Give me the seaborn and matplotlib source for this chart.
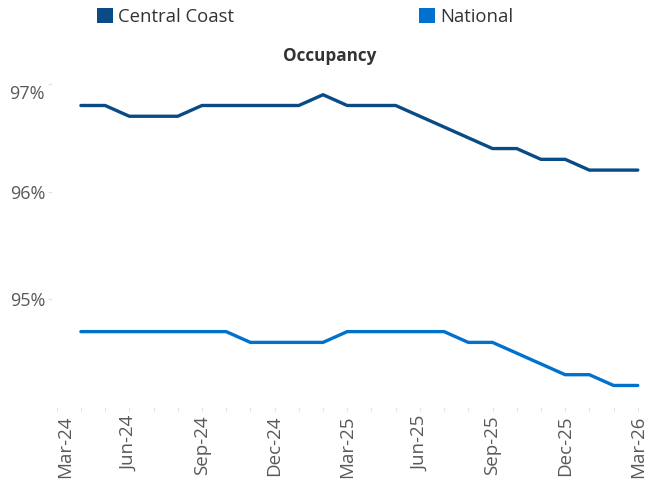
import matplotlib
matplotlib.use("Agg")
import matplotlib.pyplot as plt
from matplotlib.patches import Patch
import matplotlib.transforms as mtransforms
import seaborn as sns
import pandas as pd
import numpy as np

# ---- data ----
months = ["Apr-24", "May-24", "Jun-24", "Jul-24", "Aug-24", "Sep-24", "Oct-24", "Nov-24",
          "Dec-24", "Jan-25", "Feb-25", "Mar-25", "Apr-25", "May-25", "Jun-25", "Jul-25",
          "Aug-25", "Sep-25", "Oct-25", "Nov-25", "Dec-25", "Jan-26", "Feb-26", "Mar-26"]
central_coast = [96.8, 96.8, 96.7, 96.7, 96.7, 96.8, 96.8, 96.8, 96.8, 96.8, 96.9, 96.8,
                 96.8, 96.8, 96.7, 96.6, 96.5, 96.4, 96.4, 96.3, 96.3, 96.2, 96.2, 96.2]
national = [94.7, 94.7, 94.7, 94.7, 94.7, 94.7, 94.7, 94.6, 94.6, 94.6, 94.6, 94.7,
            94.7, 94.7, 94.7, 94.7, 94.6, 94.6, 94.5, 94.4, 94.3, 94.3, 94.2, 94.2]
tick_labels = ["Mar-24", "Jun-24", "Sep-24", "Dec-24", "Mar-25", "Jun-25", "Sep-25", "Dec-25", "Mar-26"]
y_ticks = [95, 96, 97]
series_names = ["Central Coast", "National"]
colors = {"Central Coast": "#0A4B86", "National": "#0072CE"}

# month index: 0 = Mar-24
idx = np.arange(1, len(months) + 1)
df = pd.DataFrame({
    "m": np.concatenate([idx, idx]),
    "value": central_coast + national,
    "series": [series_names[0]] * len(months) + [series_names[1]] * len(months),
})

sns.set_theme(style="white")
plt.rcParams["font.family"] = ["Open Sans", "DejaVu Sans"]

fig = plt.figure(figsize=(6.62, 4.8), dpi=100)
ax = fig.add_axes([52 / 662, (480 - 407) / 480, (662 - 52) / 662, (407 - 80) / 480])

sns.lineplot(data=df, x="m", y="value", hue="series", palette=colors, linewidth=2.4,
             ax=ax, legend=False)

x0 = 56.7
step = 24.32
ax.set_xlim((52 - x0) / step, (662 - x0) / step)
ax.set_ylim(94.0, 97.0 + 4 / 109)

ax.set_xticks(np.arange(0, 25, 3))
ax.set_xticklabels(tick_labels, rotation=90, fontsize=13.5, color="#595959")
ax.set_xticks(np.arange(0, 26, 1), minor=True)
ax.set_yticks(y_ticks)
ax.set_yticklabels([f"{v}%" for v in y_ticks], fontsize=13, color="#595959")

ax.tick_params(axis="x", which="both", direction="out", length=3, width=0.8,
               color="#e3e3e3", bottom=True, pad=3)
ax.tick_params(axis="y", which="both", direction="out", length=3, width=0.8,
               color="#e3e3e3", left=True, pad=2)
for s in ax.spines.values():
    s.set_visible(False)
ax.set_xlabel("")
ax.set_ylabel("")

# nudge labels like the reference (first x label right, top y label down)
first_x = ax.get_xticklabels()[0]
first_x.set_transform(first_x.get_transform() + mtransforms.ScaledTranslation(8 / 100, 0, fig.dpi_scale_trans))
top_y = ax.get_yticklabels()[-1]
top_y.set_transform(top_y.get_transform() + mtransforms.ScaledTranslation(0, -8 / 100, fig.dpi_scale_trans))

fig.text(330 / 662, 1 - 56 / 480, "Occupancy", ha="center", va="center",
         fontsize=12.3, fontweight="bold", color="#333333")

handles = [Patch(facecolor=colors[n], edgecolor="none", label=n) for n in series_names]
fig.legend(handles=handles, loc="center left", bbox_to_anchor=(80 / 662, 1 - 17 / 480),
           ncol=2, frameon=False, fontsize=13.3, handlelength=0.9, handleheight=0.9,
           handletextpad=0.25, columnspacing=10.0, labelcolor="#333333")

fig.savefig("out.png", dpi=100)
